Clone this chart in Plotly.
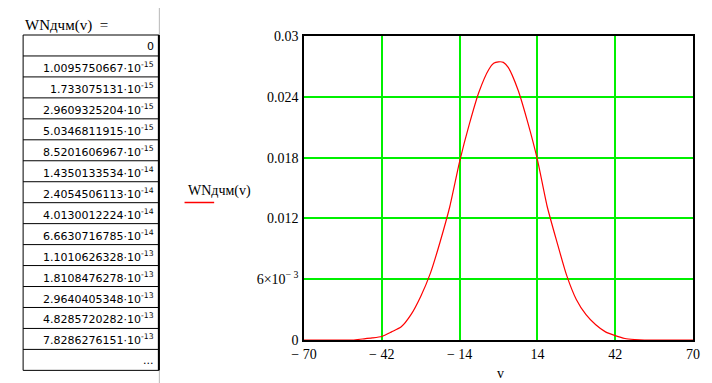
import plotly.graph_objects as go

# ---------------- data ----------------
V_VALUES = [-70, -52.5, -49, -45.5, -42, -38.5, -35, -31.5, -28, -24.5, -21, -17.5, -14,
            -10.5, -7, -3.5, -1.75, 0, 1.75, 3.5, 7, 10.5, 14, 17.5, 21, 24.5, 28, 31.5,
            35, 38.5, 42, 45.5, 49, 52.5, 70]
WN_VALUES = [0.0, 0.0, 0.0001, 0.0002, 0.00035, 0.0008, 0.0013, 0.0025, 0.0043, 0.0066,
             0.0097, 0.0132, 0.0176, 0.0213, 0.0245, 0.0267, 0.0273, 0.02745, 0.0274,
             0.0269, 0.0247, 0.0215, 0.0178, 0.0132, 0.0097, 0.0064, 0.0040, 0.0025,
             0.0015, 0.0008, 0.00043, 0.00015, 0.00005, 0.0, 0.0]

TABLE_MANTISSA = ["0", "1.0095750667", "1.733075131", "2.9609325204", "5.0346811915",
                  "8.5201606967", "1.4350133534", "2.4054506113", "4.0130012224",
                  "6.6630716785", "1.1010626328", "1.8108476278", "2.9640405348",
                  "4.8285720282", "7.8286276151", "..."]
TABLE_EXP = [None, -15, -15, -15, -15, -15, -14, -14, -14, -14, -13, -13, -13, -13, -13, None]

X_TICKS = [-70, -42, -14, 14, 42, 70]
X_TICK_TEXT = ["\u2212 70", "\u2212 42", "\u2212 14", "14", "42", "70"]
Y_TICKS = [0, 0.006, 0.012, 0.018, 0.024, 0.03]
Y_TICK_TEXT = ["0", "6\u00d710<sup>\u2212 3</sup>", "0.012", "0.018", "0.024", "0.03"]

FUNC_NAME = "WNдчм(v)"

# ---------------- layout geometry (screen pixels of the 712x383 window) ----------------
OFF = 8                      # page body margin
W, H = 712 - OFF, 383 - OFF  # figure size
PL, PR, PT, PB = 304, 698, 36, 340


def px(x):
    return (x - PL) / (PR - PL)


def py(y):
    return (PB - y) / (PB - PT)


fig = go.Figure()
fig.add_trace(go.Scatter(x=V_VALUES, y=WN_VALUES, mode="lines",
                         line=dict(color="#ff0000", width=1.2, shape="spline", smoothing=0.6),
                         showlegend=False, hoverinfo="skip"))

GRID = "#00f000"
serif = "Liberation Serif, Times New Roman, serif"
sans = "DejaVu Sans, Tahoma, sans-serif"

fig.update_xaxes(range=[-70, 70], tickvals=X_TICKS, ticktext=X_TICK_TEXT,
                 showgrid=True, gridcolor=GRID, gridwidth=1.6, zeroline=False,
                 showline=True, linecolor="black", linewidth=1.5, mirror=True,
                 ticks="", tickfont=dict(family=serif, size=14, color="black"),
                 ticklabelstandoff=0, layer="below traces")
fig.update_yaxes(range=[0, 0.03], tickvals=Y_TICKS, ticktext=Y_TICK_TEXT,
                 showgrid=True, gridcolor=GRID, gridwidth=1.6, zeroline=False,
                 showline=True, linecolor="black", linewidth=1.5, mirror=True,
                 ticks="", tickfont=dict(family=serif, size=14, color="black"),
                 ticklabelstandoff=1, layer="below traces")

shapes = []
annotations = []

# gray region border line
shapes.append(dict(type="line", xref="paper", yref="paper",
                   x0=px(157.5), x1=px(157.5), y0=py(OFF), y1=py(383),
                   line=dict(color="#b8b8b8", width=1)))

# table
T_LEFT, T_RIGHT, T_TOP = 19.5, 157, 35
ROW_H = 20.96
n = len(TABLE_MANTISSA)
T_BOTTOM = T_TOP + n * ROW_H
shapes.append(dict(type="rect", xref="paper", yref="paper",
                   x0=px(T_LEFT), x1=px(T_RIGHT), y0=py(T_TOP), y1=py(T_BOTTOM),
                   line=dict(color="black", width=1), fillcolor="white", layer="above"))
shapes.append(dict(type="line", xref="paper", yref="paper",
                   x0=px(T_RIGHT), x1=px(T_RIGHT), y0=py(T_TOP), y1=py(T_BOTTOM),
                   line=dict(color="black", width=2)))
for i in range(1, n):
    yy = T_TOP + i * ROW_H
    shapes.append(dict(type="line", xref="paper", yref="paper",
                       x0=px(T_LEFT), x1=px(T_RIGHT), y0=py(yy), y1=py(yy),
                       line=dict(color="black", width=1)))
for i, (m, e) in enumerate(zip(TABLE_MANTISSA, TABLE_EXP)):
    txt = m if e is None else f"{m}\u00b710<sup>{e}</sup>"
    annotations.append(dict(x=px(154), y=py(T_TOP + (i + 0.5) * ROW_H + 1),
                            xref="paper", yref="paper", xanchor="right", yanchor="middle",
                            text=txt, showarrow=False,
                            font=dict(family=sans, size=11, color="black")))

# table title
annotations.append(dict(x=px(19), y=py(25), xref="paper", yref="paper",
                        xanchor="left", yanchor="middle", text=FUNC_NAME + "  =",
                        showarrow=False, font=dict(family=serif, size=15, color="black")))

# legend
annotations.append(dict(x=px(184), y=py(191), xref="paper", yref="paper",
                        xanchor="left", yanchor="middle", text=FUNC_NAME,
                        showarrow=False, font=dict(family=serif, size=14, color="black")))
shapes.append(dict(type="line", xref="paper", yref="paper",
                   x0=px(183), x1=px(213), y0=py(202.5), y1=py(202.5),
                   line=dict(color="#ff0000", width=1.5)))

# x axis title
annotations.append(dict(x=px(503), y=py(373), xref="paper", yref="paper",
                        xanchor="center", yanchor="middle", text="v",
                        showarrow=False, font=dict(family=serif, size=14, color="black")))

fig.update_layout(width=W, height=H,
                  margin=dict(l=PL - OFF, r=712 - PR, t=PT - OFF, b=383 - PB),
                  paper_bgcolor="white", plot_bgcolor="white",
                  shapes=shapes, annotations=annotations, showlegend=False)

fig.write_html("out.html")
